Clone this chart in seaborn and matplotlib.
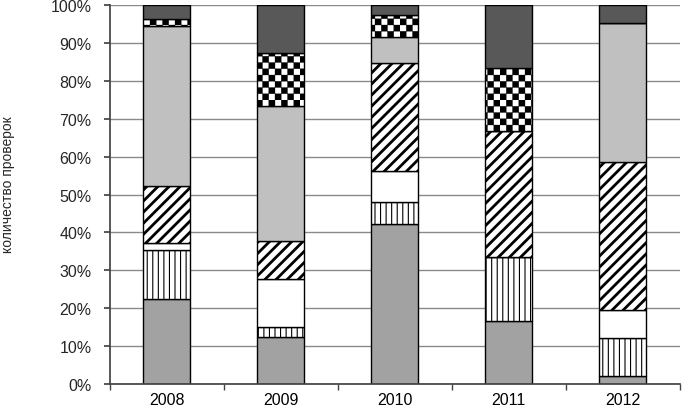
import numpy as np
import matplotlib
matplotlib.use("Agg")
import matplotlib.pyplot as plt
import matplotlib.hatch as mhatch
from matplotlib.path import Path
from matplotlib.ticker import MultipleLocator, PercentFormatter
import seaborn as sns

# ---------------- Data (share of inspections, %) ----------------
years = ["2008", "2009", "2010", "2011", "2012"]
seg_gray = [22.5, 12.5, 42.2, 16.7, 2.2]
seg_vlines = [13.0, 2.5, 5.8, 16.7, 10.0]
seg_blank = [1.8, 12.8, 8.2, 0.0, 7.2]
seg_diag = [15.0, 10.0, 28.5, 33.3, 39.3]
seg_light = [42.2, 35.6, 7.0, 0.0, 36.6]
seg_checker = [1.8, 14.0, 5.8, 16.6, 0.0]
seg_dark = [3.7, 12.6, 2.5, 16.7, 4.7]


# checkerboard hatch (takes over the '*' hatch character)
class CheckerHatch(mhatch.HatchPatternBase):
    def __init__(self, hatch, density):
        self.n = hatch.count("*") * 16
        self.num_vertices = (self.n * self.n // 2) * 5

    def set_vertices_and_codes(self, vertices, codes):
        d = 1.0 / self.n
        sq = np.array([[0, 0], [d, 0], [d, d], [0, d], [0, 0]])
        sq_codes = [Path.MOVETO, Path.LINETO, Path.LINETO, Path.LINETO, Path.CLOSEPOLY]
        k = 0
        for i in range(self.n):
            for j in range(self.n):
                if (i + j) % 2 == 0:
                    vertices[k:k + 5] = sq + [i * d, j * d]
                    codes[k:k + 5] = sq_codes
                    k += 5


mhatch._hatch_types = [h for h in mhatch._hatch_types if h is not mhatch.Stars] + [CheckerHatch]

sns.set_theme(style="white")
plt.rcParams["font.family"] = ["Liberation Sans", "DejaVu Sans"]

fig, ax = plt.subplots(figsize=(6.86, 4.10), dpi=100)
fig.subplots_adjust(left=0.160, right=0.991, bottom=0.061, top=0.985)

layers = [
    (seg_gray, "#a2a2a2", None, 1.0),
    (seg_vlines, "white", "|||", 0.8),
    (seg_blank, "white", None, 1.0),
    (seg_diag, "white", "///", 2.0),
    (seg_light, "#c0c0c0", None, 1.0),
    (seg_checker, "white", "*", 0.2),
    (seg_dark, "#585858", None, 1.0),
]

bottom = np.zeros(len(years))
for values, color, hatch, hlw in layers:
    n_before = len(ax.patches)
    sns.barplot(x=years, y=values, bottom=bottom, color=color, hatch=hatch,
                edgecolor="black", linewidth=1, width=0.41, saturation=1,
                errorbar=None, ax=ax, zorder=2)
    for p in ax.patches[n_before:]:
        if hasattr(p, "set_hatch_linewidth"):
            p.set_hatch_linewidth(hlw)
    bottom = bottom + np.array(values)

# ---------------- Axes styling ----------------
ax.set_ylim(0, 100)
ax.set_xlim(-0.5, 4.5)
ax.yaxis.set_major_locator(MultipleLocator(10))
ax.yaxis.set_major_formatter(PercentFormatter(decimals=0))
ax.grid(axis="y", color="#8a8a8a", linewidth=1)
ax.grid(axis="x", visible=False)
ax.set_axisbelow(True)
for s in ["top", "right"]:
    ax.spines[s].set_visible(False)
ax.spines["left"].set_color("#444444")
ax.spines["bottom"].set_color("#444444")

ax.set_xticks(np.arange(-0.5, 5, 1), minor=True)
ax.tick_params(axis="x", which="major", length=0, pad=6, labelsize=11.5, colors="black")
ax.tick_params(axis="x", which="minor", length=4, direction="out", color="#444444", bottom=True)
ax.tick_params(axis="y", length=4, direction="out", pad=9, labelsize=11.5, color="#444444", left=True)
ax.set_xlabel("")
ax.set_ylabel("")

fig.text(0.011, 0.55, "количество проверок", rotation=90, fontsize=10,
         va="center", ha="center")

plt.savefig("out.png", dpi=100)
